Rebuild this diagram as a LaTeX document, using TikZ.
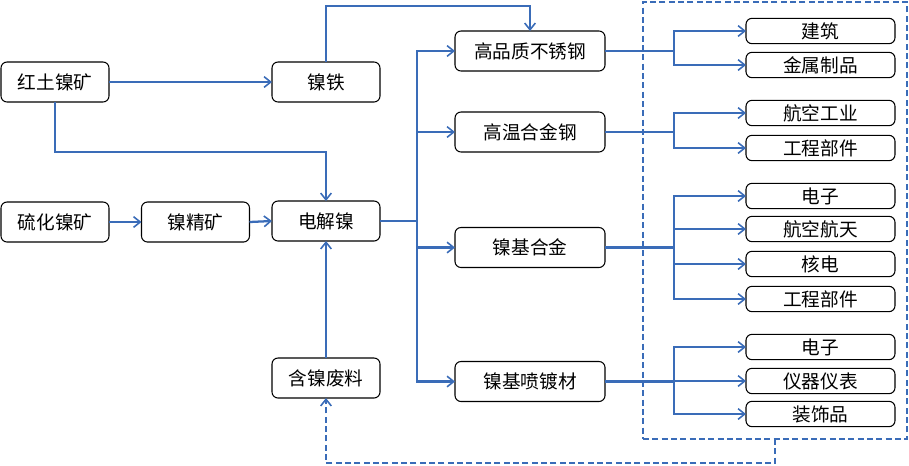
\documentclass[tikz,border=0pt]{standalone}
\usepackage{fontspec}
\newfontfamily\cjk{Noto Sans CJK SC}
\usetikzlibrary{arrows.meta}
\definecolor{lineblue}{RGB}{58,108,184}
\tikzset{
  box/.style={draw=black,line width=0.8pt,rounded corners=4.5pt,inner sep=0pt,outer sep=0pt,
    font=\cjk\fontsize{14}{14}\selectfont},
  lbox/.style={box,minimum width=81pt,minimum height=30pt},
  mbox/.style={box,minimum width=112.5pt,minimum height=30pt},
  rbox/.style={box,minimum width=111.75pt,minimum height=19pt},
  arr/.style={draw=lineblue,line width=1.7pt,-{Straight Barb[length=5pt,width=8pt,line width=1.2pt]}},
  ln/.style={draw=lineblue,line width=1.7pt},
  dasharr/.style={draw=lineblue,line width=1.5pt,dash pattern=on 4.5pt off 2.5pt,-{Straight Barb[length=5pt,width=8pt,line width=1.2pt]}},
  grpbox/.style={draw=lineblue,line width=1.5pt,dash pattern=on 4.5pt off 2.5pt,inner sep=0pt,outer sep=0pt,
    minimum width=198pt,minimum height=327.75pt}
}
\begin{document}
\begin{tikzpicture}[x=0.75pt,y=-0.75pt]
\useasboundingbox (0,0) rectangle (909,465);
% group box
\node[grpbox] (grp) at (775,220.5) {};
% left nodes
\node[lbox] (ht) at (55,82) {红土镍矿};
\node[lbox] (nt) at (326,82) {镍铁};
\node[lbox] (lh) at (55,222) {硫化镍矿};
\node[lbox] (jk) at (195.5,222) {镍精矿};
\node[lbox] (dj) at (326,221) {电解镍};
\node[lbox] (fl) at (326,378) {含镍废料};
% middle nodes
\node[mbox] (hp) at (530,51) {高品质不锈钢};
\node[mbox] (gw) at (530,132) {高温合金钢};
\node[mbox] (nj) at (530,247.5) {镍基合金};
\node[mbox] (pd) at (530,381.5) {镍基喷镀材};
% right nodes
\node[rbox] (r1) at (820.5,31) {建筑};
\node[rbox] (r2) at (820.5,65) {金属制品};
\node[rbox] (r3) at (820.5,113) {航空工业};
\node[rbox] (r4) at (820.5,148) {工程部件};
\node[rbox] (r5) at (820.5,196) {电子};
\node[rbox] (r6) at (820.5,229) {航空航天};
\node[rbox] (r7) at (820.5,264) {核电};
\node[rbox] (r8) at (820.5,299) {工程部件};
\node[rbox] (r9) at (820.5,347) {电子};
\node[rbox] (r10) at (820.5,381) {仪器仪表};
\node[rbox] (r11) at (820.5,414) {装饰品};
% connectors left
\draw[arr] (ht.east) -- (nt.west);
\draw[arr] (lh.east) -- (jk.west);
\draw[arr] (jk.east) -- (dj.west);
\draw[arr] (ht.south) -- (ht.south |- 0,152) -| (dj.north);
\draw[arr] (nt.north) -- (nt.north |- 0,6) -| (hp.north);
\draw[arr] (fl.north) -- (dj.south);
% trunk from electrolytic nickel
\draw[ln] (dj.east) -- (417,221);
\draw[ln] (417,51) -- (417,381.5);
\draw[arr] (dj.east) ++(37,0) |- (hp.west);
\draw[arr] (dj.east) ++(37,0) |- (gw.west);
\draw[arr] (dj.east) ++(37,0) |- (nj.west);
\draw[arr] (dj.east) ++(37,0) |- (pd.west);
% branches to applications
\draw[arr] (hp.east) -- ++(69,0) |- (r1.west);
\draw[arr] (hp.east) -- ++(69,0) |- (r2.west);
\draw[arr] (gw.east) -- ++(69,0) |- (r3.west);
\draw[arr] (gw.east) -- ++(69,0) |- (r4.west);
\draw[arr] (nj.east) -- ++(69,0) |- (r5.west);
\draw[arr] (nj.east) -- ++(69,0) |- (r6.west);
\draw[arr] (nj.east) -- ++(69,0) |- (r7.west);
\draw[arr] (nj.east) -- ++(69,0) |- (r8.west);
\draw[arr] (pd.east) -- ++(69,0) |- (r9.west);
\draw[arr] (pd.east) -- ++(69,0) |- (r10.west);
\draw[arr] (pd.east) -- ++(69,0) |- (r11.west);
% recycling
\draw[dasharr] (grp.south) -- ++(0,24) -| (fl.south);
\end{tikzpicture}
\end{document}
